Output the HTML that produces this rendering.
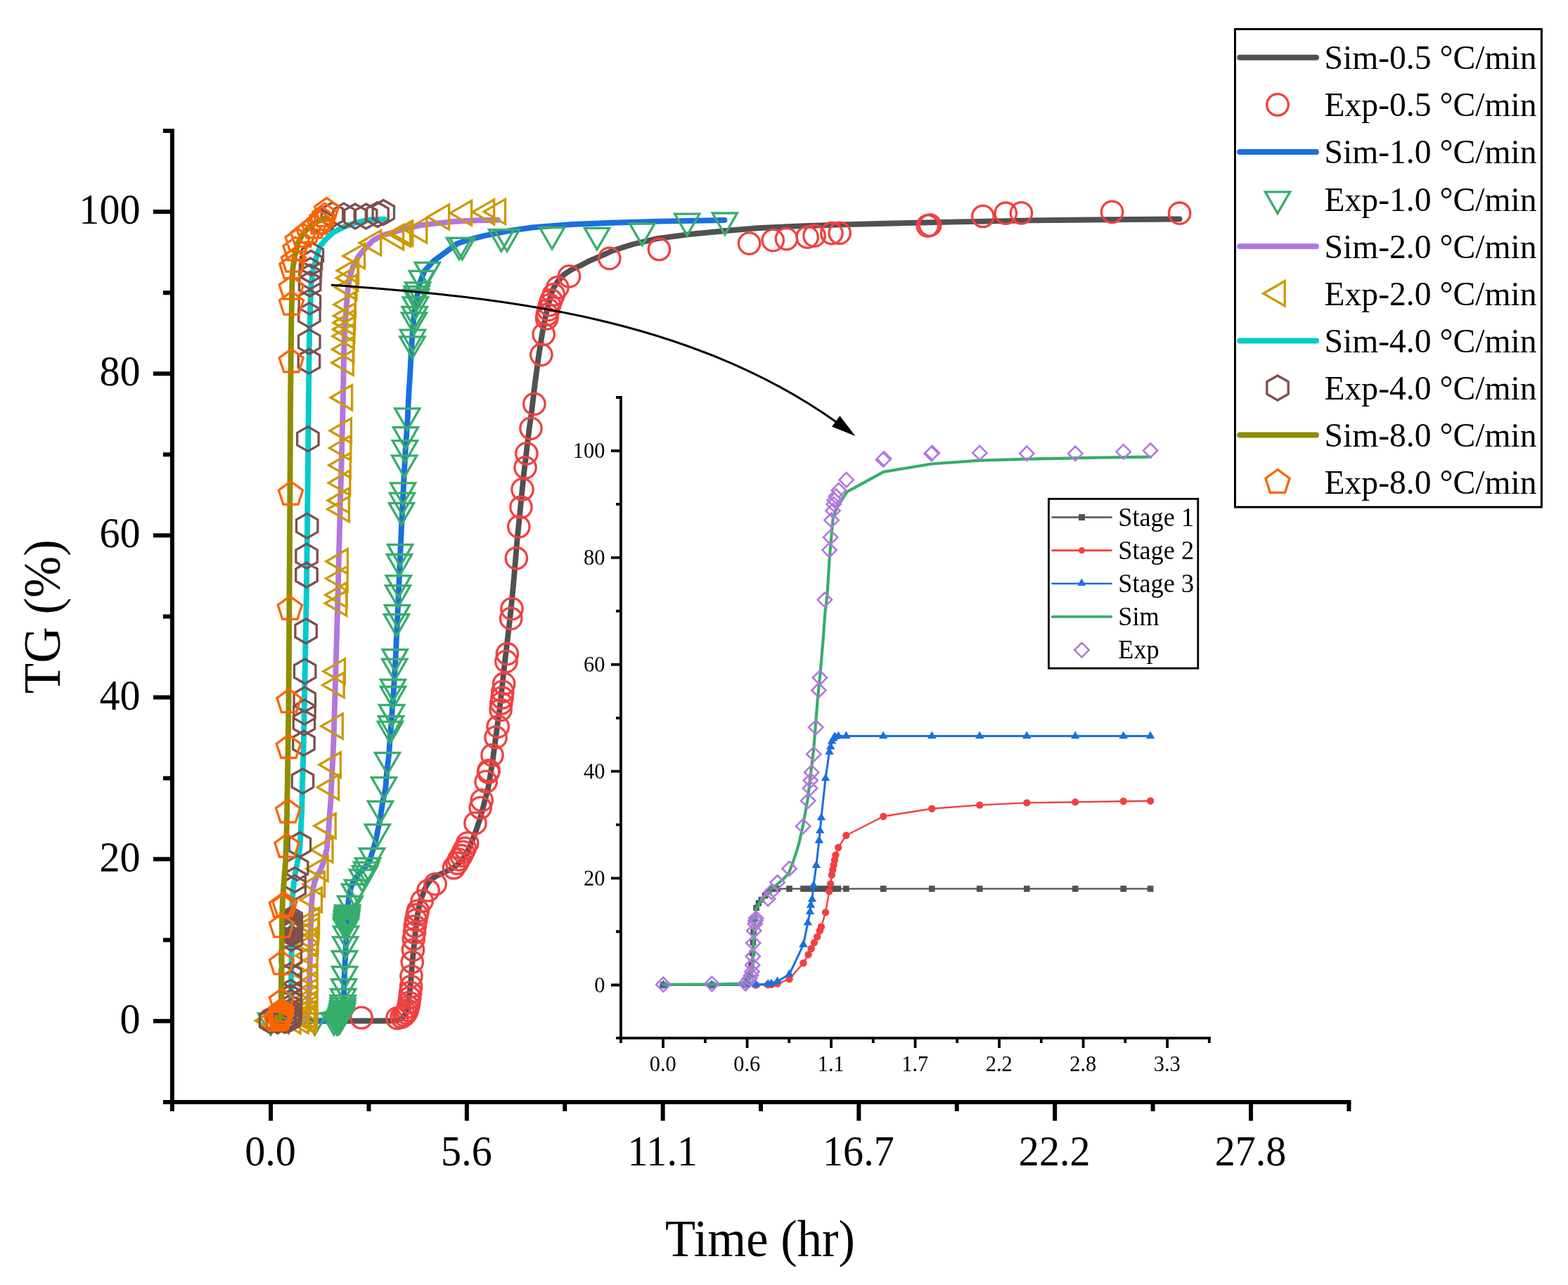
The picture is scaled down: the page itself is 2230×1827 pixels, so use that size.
<!DOCTYPE html>
<html lang="en"><head><meta charset="utf-8"><title>TG (%) vs Time (hr)</title>
<style>
html,body{margin:0;padding:0;background:#fff;}
body{width:2230px;height:1827px;overflow:hidden;}
svg{display:block;}
</style></head><body>
<svg width="2230" height="1827" viewBox="0 0 2230 1827" role="img" aria-label="TG (%) versus Time (hr)">
<rect width="2230" height="1827" fill="#fff"/>
<g stroke="#000" stroke-width="6" fill="none">
<path d="M244.9,183 V1580.1"/>
<path d="M231.9,1567.1 H1921.4"/>
<path d="M244.9,1451.7 H217.9M244.9,1336.6 H231.9M244.9,1221.6 H217.9M244.9,1106.5 H231.9M244.9,991.5 H217.9M244.9,876.4 H231.9M244.9,761.3 H217.9M244.9,646.3 H231.9M244.9,531.2 H217.9M244.9,416.2 H231.9M244.9,301.1 H217.9M244.9,186 H231.9M385.1,1567.1 V1593.6M524.5,1567.1 V1580.1M663.9,1567.1 V1593.6M803.3,1567.1 V1580.1M942.7,1567.1 V1593.6M1082,1567.1 V1580.1M1221.4,1567.1 V1593.6M1360.8,1567.1 V1580.1M1500.2,1567.1 V1593.6M1639.6,1567.1 V1580.1M1779,1567.1 V1593.6M1918.4,1567.1 V1580.1"/>
</g>
<g font-family="'Liberation Serif',serif" font-size="61.5" fill="#000">
<text transform="translate(199.5,1468.8) scale(0.945,1)" text-anchor="end">0</text>
<text transform="translate(199.5,1238.7) scale(0.945,1)" text-anchor="end">20</text>
<text transform="translate(199.5,1008.6) scale(0.945,1)" text-anchor="end">40</text>
<text transform="translate(199.5,778.4) scale(0.945,1)" text-anchor="end">60</text>
<text transform="translate(199.5,548.3) scale(0.945,1)" text-anchor="end">80</text>
<text transform="translate(199.5,318.2) scale(0.945,1)" text-anchor="end">100</text>
<text transform="translate(384.6,1656.8) scale(0.945,1)" text-anchor="middle">0.0</text>
<text transform="translate(663.4,1656.8) scale(0.945,1)" text-anchor="middle">5.6</text>
<text transform="translate(942.2,1656.8) scale(0.945,1)" text-anchor="middle">11.1</text>
<text transform="translate(1220.9,1656.8) scale(0.945,1)" text-anchor="middle">16.7</text>
<text transform="translate(1499.7,1656.8) scale(0.945,1)" text-anchor="middle">22.2</text>
<text transform="translate(1778.5,1656.8) scale(0.945,1)" text-anchor="middle">27.8</text>
</g>
<g font-family="'Liberation Serif',serif" font-size="73" fill="#000">
<text transform="translate(1081,1786) scale(0.967,1)" text-anchor="middle">Time (hr)</text>
<text transform="translate(85.3,876.6) rotate(-90) scale(0.975,1)" text-anchor="middle">TG (%)</text>
</g>
<g fill="none" stroke-linejoin="round" stroke-linecap="round">
<polyline stroke="#515151" stroke-width="7.9" points="385.1,1451.7 555,1451.5 559.5,1451.4 566,1450.5 572.8,1447.5 577.3,1440 580.2,1428 582.5,1412.3 584.5,1392.4 586,1372.5 588,1352.6 590,1332.8 592,1312.9 594,1299.6 596.6,1286.4 599.3,1277.1 603.2,1266.5 607.2,1257.8 612.5,1251 620.5,1245.3 629.7,1241.3 642.2,1235.3 651,1229 658.1,1222 663.5,1212.5 668.7,1202.2 676.6,1182.3 683.2,1162.4 688.5,1142.5 693.8,1122.6 697.2,1102.8 700.5,1082.9 703.1,1063 705.8,1043.1 708.4,1023.3 710.4,1010 716.7,952.3 721.4,912.5 726,872.8 730,833 732.8,800 735.4,768.8 738.1,742.3 741.4,709.1 744.7,676 748.7,642.9 752.6,609.8 755.5,590 760.8,545.5 766.1,505.8 771.4,472.6 776.7,446.1 783.4,419.6 787.5,409 793,400.5 801.9,390.5 812.5,383.5 824.8,378 839,370.6 858.9,362.1 869.7,357 892.9,349.6 899.5,347.5 935.1,339.2 978.8,333.3 1030.3,328.3 1077.9,324.3 1137.3,321.4 1196.8,319.4 1260,317.8 1353.3,315.6 1466.5,313.4 1579.8,312.2 1677.5,311.5"/>
<g stroke="#F14040" stroke-width="3.3" stroke-linejoin="miter">
<circle cx="384.3" cy="1449.3" r="15.2"/>
<circle cx="514.1" cy="1447" r="15.2"/>
<circle cx="564.9" cy="1447.6" r="15.2"/>
<circle cx="571.2" cy="1446" r="15.2"/>
<circle cx="574.8" cy="1443.4" r="15.2"/>
<circle cx="577.5" cy="1440.2" r="15.2"/>
<circle cx="579.4" cy="1436.3" r="15.2"/>
<circle cx="580.7" cy="1431.6" r="15.2"/>
<circle cx="581.9" cy="1425.5" r="15.2"/>
<circle cx="582.8" cy="1418.5" r="15.2"/>
<circle cx="583.6" cy="1411" r="15.2"/>
<circle cx="584.6" cy="1402.5" r="15.2"/>
<circle cx="585" cy="1388" r="15.2"/>
<circle cx="586.3" cy="1368" r="15.2"/>
<circle cx="587.5" cy="1350.5" r="15.2"/>
<circle cx="588.3" cy="1335" r="15.2"/>
<circle cx="589.5" cy="1326" r="15.2"/>
<circle cx="590.3" cy="1317" r="15.2"/>
<circle cx="591.6" cy="1308.3" r="15.2"/>
<circle cx="593.1" cy="1300.7" r="15.2"/>
<circle cx="594.5" cy="1295" r="15.2"/>
<circle cx="600.2" cy="1281" r="15.2"/>
<circle cx="609.1" cy="1266" r="15.2"/>
<circle cx="619.1" cy="1257" r="15.2"/>
<circle cx="645.5" cy="1234" r="15.2"/>
<circle cx="650.1" cy="1227.3" r="15.2"/>
<circle cx="652.8" cy="1222" r="15.2"/>
<circle cx="656.1" cy="1216.7" r="15.2"/>
<circle cx="658.7" cy="1211.4" r="15.2"/>
<circle cx="661.4" cy="1206.1" r="15.2"/>
<circle cx="664.7" cy="1198.8" r="15.2"/>
<circle cx="676" cy="1170.4" r="15.2"/>
<circle cx="683.2" cy="1148.5" r="15.2"/>
<circle cx="685.2" cy="1137.9" r="15.2"/>
<circle cx="691.2" cy="1111.4" r="15.2"/>
<circle cx="694.6" cy="1098" r="15.2"/>
<circle cx="695.2" cy="1095.5" r="15.2"/>
<circle cx="700.1" cy="1073.6" r="15.2"/>
<circle cx="705.1" cy="1048.4" r="15.2"/>
<circle cx="708.2" cy="1033.2" r="15.2"/>
<circle cx="712.1" cy="1009.3" r="15.2"/>
<circle cx="712.8" cy="1000" r="15.2"/>
<circle cx="714.1" cy="992" r="15.2"/>
<circle cx="714.8" cy="983.4" r="15.2"/>
<circle cx="716.7" cy="972.2" r="15.2"/>
<circle cx="720" cy="940.4" r="15.2"/>
<circle cx="721.4" cy="929.7" r="15.2"/>
<circle cx="726.7" cy="879.4" r="15.2"/>
<circle cx="728" cy="865.5" r="15.2"/>
<circle cx="734.4" cy="793.7" r="15.2"/>
<circle cx="737.8" cy="748.9" r="15.2"/>
<circle cx="741" cy="721.1" r="15.2"/>
<circle cx="743.1" cy="695.9" r="15.2"/>
<circle cx="747.1" cy="664.8" r="15.2"/>
<circle cx="748.9" cy="644.9" r="15.2"/>
<circle cx="755" cy="609.1" r="15.2"/>
<circle cx="759.9" cy="574.4" r="15.2"/>
<circle cx="769.9" cy="504.4" r="15.2"/>
<circle cx="773.2" cy="475.3" r="15.2"/>
<circle cx="777.7" cy="452.9" r="15.2"/>
<circle cx="778.3" cy="447.2" r="15.2"/>
<circle cx="780" cy="440.4" r="15.2"/>
<circle cx="781.7" cy="433.6" r="15.2"/>
<circle cx="784" cy="426.8" r="15.2"/>
<circle cx="787.4" cy="418.9" r="15.2"/>
<circle cx="793" cy="408.7" r="15.2"/>
<circle cx="809.5" cy="392.9" r="15.2"/>
<circle cx="866.8" cy="367.3" r="15.2"/>
<circle cx="937.5" cy="354.5" r="15.2"/>
<circle cx="1065.6" cy="346.1" r="15.2"/>
<circle cx="1099.3" cy="341.6" r="15.2"/>
<circle cx="1118.5" cy="339.6" r="15.2"/>
<circle cx="1148.2" cy="337.2" r="15.2"/>
<circle cx="1158.1" cy="335.2" r="15.2"/>
<circle cx="1182.9" cy="331.7" r="15.2"/>
<circle cx="1194.2" cy="331.3" r="15.2"/>
<circle cx="1319.3" cy="321.1" r="15.2"/>
<circle cx="1322.7" cy="320.2" r="15.2"/>
<circle cx="1397.9" cy="307.5" r="15.2"/>
<circle cx="1430.3" cy="303.2" r="15.2"/>
<circle cx="1452.5" cy="302.9" r="15.2"/>
<circle cx="1581.6" cy="301.4" r="15.2"/>
<circle cx="1677.6" cy="303.2" r="15.2"/>
</g>
<polyline stroke="#1A6FDF" stroke-width="7.9" points="385.1,1451.7 478,1451.3 484,1450 487,1445 488.3,1432 488.7,1423 489.3,1407.2 489.9,1382.7 491.2,1358.2 492.4,1333.6 493,1314 494.9,1287 496.5,1273 498.7,1263.4 501.5,1255.5 505.3,1249.2 513.6,1238.5 521,1231 525.9,1224 530.8,1207.2 533.7,1197.2 535.7,1188.8 540.6,1164.3 544.3,1139.8 548.2,1121.6 550.4,1094 552.8,1076.2 556.2,1030.8 559.6,985.4 562.4,940 567,840.8 570.9,750 576,650.8 579.8,594 581.2,562.3 583.1,533.9 584.6,505.6 586.4,477.2 588.8,448.9 592.6,424.5 597.2,401.8 604,384.8 616.5,371.2 633.5,358.7 650.5,346.2 667.5,340.6 690.2,334.9 724.3,328.1 756.7,323.5 813.5,319 840,318 870.2,316.8 940,314.6 1030.5,313"/>
<g stroke="#37AD6B" stroke-width="3.3" stroke-linejoin="miter">
<path d="M367.5,1440.8L402.7,1440.8L385.1,1471.3ZM430,1440.8L465.2,1440.8L447.6,1471.3ZM457.4,1440.6L492.6,1440.6L475,1471.1ZM461.3,1440.2L496.5,1440.2L478.9,1470.7ZM462.4,1440L497.6,1440L480,1470.5ZM463.7,1439.6L498.9,1439.6L481.3,1470.1ZM464.9,1438.8L500.1,1438.8L482.5,1469.3ZM466.2,1437.8L501.4,1437.8L483.8,1468.3ZM466.9,1436.1L502.1,1436.1L484.5,1466.6ZM467.4,1434.1L502.6,1434.1L485,1464.6ZM468.1,1431.8L503.3,1431.8L485.7,1462.3ZM468.7,1429.2L503.9,1429.2L486.3,1459.7ZM469.2,1426.3L504.4,1426.3L486.8,1456.8ZM469.6,1423.1L504.8,1423.1L487.2,1453.6ZM469.9,1419.3L505.1,1419.3L487.5,1449.8ZM470.1,1415.7L505.3,1415.7L487.7,1446.2ZM470.5,1406.5L505.7,1406.5L488.1,1437ZM471.5,1392.4L506.7,1392.4L489.1,1422.9ZM472.5,1374.6L507.7,1374.6L490.1,1405.1ZM472.5,1352.5L507.7,1352.5L490.1,1383ZM473.6,1332.3L508.8,1332.3L491.2,1362.8ZM474.4,1317.5L509.6,1317.5L492,1348ZM474.4,1306.5L509.6,1306.5L492,1337ZM474.7,1302.8L509.9,1302.8L492.3,1333.3ZM475,1299.8L510.2,1299.8L492.6,1330.3ZM475.4,1296.7L510.6,1296.7L493,1327.2ZM475.7,1293.8L510.9,1293.8L493.3,1324.3ZM476.1,1290.8L511.3,1290.8L493.7,1321.3ZM476.6,1287.5L511.8,1287.5L494.2,1318ZM480.4,1274.4L515.6,1274.4L498,1304.9ZM486.4,1257.4L521.6,1257.4L504,1287.9ZM490.5,1251.3L525.7,1251.3L508.1,1281.8ZM497.4,1236.8L532.6,1236.8L515,1267.3ZM501.5,1231.7L536.7,1231.7L519.1,1262.2ZM503.4,1226.1L538.6,1226.1L521,1256.6ZM505.6,1220.4L540.8,1220.4L523.2,1250.9ZM511.4,1206.5L546.6,1206.5L529,1237ZM519.3,1172.4L554.5,1172.4L536.9,1202.9ZM523.4,1139.3L558.6,1139.3L541,1169.8ZM528.5,1105.3L563.7,1105.3L546.1,1135.8ZM533.4,1070.3L568.6,1070.3L551,1100.8ZM537.4,1026.2L572.6,1026.2L555,1056.7ZM538.4,1018.5L573.6,1018.5L556,1049ZM539.4,1002.4L574.6,1002.4L557,1032.9ZM541.4,976.5L576.6,976.5L559,1007ZM541.4,966.3L576.6,966.3L559,996.8ZM543.6,937.2L578.8,937.2L561.2,967.7ZM544.1,923.6L579.3,923.6L561.7,954.1ZM546.4,873.7L581.6,873.7L564,904.2ZM547.3,860.6L582.5,860.6L564.9,891.1ZM548.4,832.6L583.6,832.6L566,863.1ZM549.2,818.6L584.4,818.6L566.8,849.1ZM550.4,788.5L585.6,788.5L568,819ZM551.5,774.4L586.7,774.4L569.1,804.9ZM553.4,715.4L588.6,715.4L571,745.9ZM554.3,701.2L589.5,701.2L571.9,731.7ZM555.5,686.8L590.7,686.8L573.1,717.3ZM557.5,647.9L592.7,647.9L575.1,678.4ZM558.3,626.7L593.5,626.7L575.9,657.2ZM559.4,607.6L594.6,607.6L577,638.1ZM561.7,580.8L596.9,580.8L579.3,611.3ZM568.9,478.8L604.1,478.8L586.5,509.3ZM569.4,469.2L604.6,469.2L587,499.7ZM571.4,444.8L606.6,444.8L589,475.3ZM572.1,436.4L607.3,436.4L589.7,466.9ZM573.2,422.8L608.4,422.8L590.8,453.3ZM574.4,412L609.6,412L592,442.5ZM574.9,407.5L610.1,407.5L592.5,438ZM576.6,401.8L611.8,401.8L594.2,432.3ZM582.3,385.4L617.5,385.4L599.9,415.9ZM590.2,373.4L625.4,373.4L607.8,403.9ZM635.4,338.3L670.6,338.3L653,368.8ZM639.9,338.3L675.1,338.3L657.5,368.8ZM695.5,326.7L730.7,326.7L713.1,357.2ZM703.5,326.7L738.7,326.7L721.1,357.2ZM767.5,323.5L802.7,323.5L785.1,354ZM831.5,324.3L866.7,324.3L849.1,354.8ZM895.7,318.1L930.9,318.1L913.3,348.6ZM959.6,304.2L994.8,304.2L977.2,334.7ZM1013.3,303L1048.5,303L1030.9,333.5Z"/>
</g>
<polyline stroke="#B177DE" stroke-width="7.9" points="385.1,1451.7 430,1451.5 435,1450 437.5,1445 438.3,1435 439,1420 440.1,1395 441.3,1350 442,1314 443,1287 444.5,1268 447,1255 451,1245 456,1236.5 460,1226 462.8,1216 464.7,1206.7 465.8,1195 467.5,1178.3 468.8,1158.2 470.5,1137 471.6,1110.2 473.3,1080 474.5,1053.5 476.2,996.7 477.9,940 480.7,840.8 483,750 485.8,650.8 488.1,560 489.2,492 490.9,458 492.8,434 494.7,411.7 497.5,392.8 502.3,378.6 509.8,364.5 519.3,353.1 530.6,341.8 544.8,334.2 558.9,330.5 576.7,324.7 599.4,320.1 622.1,317.3 644.8,315 678.9,313.3 708,312.8"/>
<g stroke="#CC9900" stroke-width="3.3" stroke-linejoin="miter">
<path d="M393.8,1433.6L393.8,1468.8L363.3,1451.2ZM410.2,1433.9L410.2,1469.1L379.7,1451.5ZM427.1,1433.9L427.1,1469.1L396.6,1451.5ZM438.2,1433.7L438.2,1468.9L407.7,1451.3ZM447.5,1433.4L447.5,1468.6L417,1451ZM449.6,1431.4L449.6,1466.6L419.1,1449ZM450.2,1427.4L450.2,1462.6L419.7,1445ZM450.7,1422.4L450.7,1457.6L420.2,1440ZM451,1416.4L451,1451.6L420.5,1434ZM451.2,1409.4L451.2,1444.6L420.7,1427ZM451.2,1401.4L451.2,1436.6L420.7,1419ZM451.2,1392.4L451.2,1427.6L420.7,1410ZM451.2,1381.4L451.2,1416.6L420.7,1399ZM451.1,1369.9L451.1,1405.1L420.6,1387.5ZM451.2,1354.4L451.2,1389.6L420.7,1372ZM451.1,1341.1L451.1,1376.3L420.6,1358.7ZM451.7,1325.4L451.7,1360.6L421.2,1343ZM452.2,1318.4L452.2,1353.6L421.7,1336ZM452.7,1305.4L452.7,1340.6L422.2,1323ZM453.2,1298.4L453.2,1333.6L422.7,1316ZM453.7,1291.1L453.7,1326.3L423.2,1308.7ZM457.5,1261.8L457.5,1297L427,1279.4ZM461.5,1239.4L461.5,1274.6L431,1257ZM466.2,1217.6L466.2,1252.8L435.7,1235.2ZM473,1190.7L473,1225.9L442.5,1208.3ZM477.2,1156.6L477.2,1191.8L446.7,1174.2ZM481.7,1101.7L481.7,1136.9L451.2,1119.3ZM484.4,1069.7L484.4,1104.9L453.9,1087.3ZM487.3,1014.9L487.3,1050.1L456.8,1032.5ZM489.2,956.4L489.2,991.6L458.7,974ZM490.4,936.9L490.4,972.1L459.9,954.5ZM492.7,840.2L492.7,875.4L462.2,857.8ZM493.2,828.3L493.2,863.5L462.7,845.9ZM494.2,805L494.2,840.2L463.7,822.6ZM494.4,780.6L494.4,815.8L463.9,798.2ZM496.4,706.4L496.4,741.6L465.9,724ZM496.6,693.9L496.6,729.1L466.1,711.5ZM497.8,668.9L497.8,704.1L467.3,686.5ZM498.3,644L498.3,679.2L467.8,661.6ZM498.9,619.3L498.9,654.5L468.4,636.9ZM499.5,594.8L499.5,630L469,612.4ZM500.6,547.6L500.6,582.8L470.1,565.2ZM502.3,498.1L502.3,533.3L471.8,515.7ZM502.9,479.1L502.9,514.3L472.4,496.7ZM503.4,460.3L503.4,495.5L472.9,477.9ZM504,450.7L504,485.9L473.5,468.3ZM504.3,441.1L504.3,476.3L473.8,458.7ZM504.8,431.4L504.8,466.6L474.3,449ZM505.5,415.3L505.5,450.5L475,432.9ZM507,390.9L507,426.1L476.5,408.5ZM508.9,377.7L508.9,412.9L478.4,395.3ZM509.7,367.2L509.7,402.4L479.2,384.8ZM518.6,346.4L518.6,381.6L488.1,364ZM541.7,327.8L541.7,363L511.2,345.4ZM573.6,319.6L573.6,354.8L543.1,337.2ZM583.6,315.4L583.6,350.6L553.1,333ZM586.8,314.1L586.8,349.3L556.3,331.7ZM606.8,309.9L606.8,345.1L576.3,327.5ZM638.6,290.9L638.6,326.1L608.1,308.5ZM670.7,285.3L670.7,320.5L640.2,302.9ZM702.7,283.8L702.7,319L672.2,301.4ZM718.6,283.3L718.6,318.5L688.1,300.9Z"/>
</g>
<polyline stroke="#00CBCC" stroke-width="7.9" points="385.1,1451.7 405,1451.5 411,1449 413,1440 414,1420 414.2,1395 415.1,1314 415.6,1282.3 417,1263.4 419.4,1244.5 423.1,1225.6 426.4,1206.7 427.9,1178.3 429.3,1150 430.2,1110.2 431.9,1053.5 433,996.7 434,940 435.9,840.8 437,750 439,560 439.9,480.8 441.3,434 442.7,402.3 445.6,383.4 450.3,364.5 455,350.3 462.6,340.9 473.9,330.5 488.1,322.9 507,316.3 525.9,312.5 546.8,311.6"/>
<g stroke="#7D4E4E" stroke-width="3.3" stroke-linejoin="miter">
<path d="M384.6,1434L399.8,1442.8L399.8,1460.2L384.6,1469L369.4,1460.2L369.4,1442.8ZM395,1434L410.2,1442.8L410.2,1460.2L395,1469L379.8,1460.2L379.8,1442.8ZM405,1433.5L420.2,1442.2L420.2,1459.8L405,1468.5L389.8,1459.8L389.8,1442.2ZM410.5,1432.5L425.7,1441.2L425.7,1458.8L410.5,1467.5L395.3,1458.8L395.3,1441.2ZM412.3,1429.5L427.5,1438.2L427.5,1455.8L412.3,1464.5L397.1,1455.8L397.1,1438.2ZM412.8,1425.5L428,1434.2L428,1451.8L412.8,1460.5L397.6,1451.8L397.6,1434.2ZM413,1420.5L428.2,1429.2L428.2,1446.8L413,1455.5L397.8,1446.8L397.8,1429.2ZM413.1,1414.5L428.3,1423.2L428.3,1440.8L413.1,1449.5L397.9,1440.8L397.9,1423.2ZM413.1,1407.5L428.3,1416.2L428.3,1433.8L413.1,1442.5L397.9,1433.8L397.9,1416.2ZM413.1,1400.5L428.3,1409.2L428.3,1426.8L413.1,1435.5L397.9,1426.8L397.9,1409.2ZM413.1,1393.1L428.3,1401.8L428.3,1419.3L413.1,1428.1L397.9,1419.3L397.9,1401.8ZM413.1,1380.5L428.3,1389.2L428.3,1406.8L413.1,1415.5L397.9,1406.8L397.9,1389.2ZM413.1,1369.5L428.3,1378.2L428.3,1395.8L413.1,1404.5L397.9,1395.8L397.9,1378.2ZM413.3,1342.5L428.5,1351.2L428.5,1368.8L413.3,1377.5L398.1,1368.8L398.1,1351.2ZM414.4,1316.8L429.6,1325.5L429.6,1343L414.4,1351.8L399.2,1343L399.2,1325.5ZM414.4,1309.5L429.6,1318.2L429.6,1335.8L414.4,1344.5L399.2,1335.8L399.2,1318.2ZM414.4,1305.5L429.6,1314.2L429.6,1331.8L414.4,1340.5L399.2,1331.8L399.2,1314.2ZM414.3,1301.5L429.5,1310.2L429.5,1327.8L414.3,1336.5L399.1,1327.8L399.1,1310.2ZM414.2,1297.5L429.4,1306.2L429.4,1323.8L414.2,1332.5L399,1323.8L399,1306.2ZM414.2,1293.5L429.4,1302.2L429.4,1319.8L414.2,1328.5L399,1319.8L399,1302.2ZM414.3,1289.5L429.5,1298.2L429.5,1315.8L414.3,1324.5L399.1,1315.8L399.1,1298.2ZM419.1,1244.5L434.3,1253.2L434.3,1270.8L419.1,1279.5L403.9,1270.8L403.9,1253.2ZM419.1,1233.5L434.3,1242.2L434.3,1259.8L419.1,1268.5L403.9,1259.8L403.9,1242.2ZM422.7,1216.6L437.9,1225.3L437.9,1242.8L422.7,1251.6L407.5,1242.8L407.5,1225.3ZM426.4,1183.5L441.6,1192.2L441.6,1209.8L426.4,1218.5L411.2,1209.8L411.2,1192.2ZM430.5,1093.1L445.7,1101.8L445.7,1119.3L430.5,1128.1L415.3,1119.3L415.3,1101.8ZM432,1039.2L447.2,1048L447.2,1065.5L432,1074.2L416.8,1065.5L416.8,1048ZM432.5,1010.1L447.7,1018.8L447.7,1036.3L432.5,1045.1L417.3,1036.3L417.3,1018.8ZM433,994.9L448.2,1003.6L448.2,1021.1L433,1029.9L417.8,1021.1L417.8,1003.6ZM433.3,977L448.5,985.8L448.5,1003.2L433.3,1012L418.1,1003.2L418.1,985.8ZM433.7,937L448.9,945.8L448.9,963.2L433.7,972L418.5,963.2L418.5,945.8ZM435.1,879.8L450.3,888.5L450.3,906L435.1,914.8L419.9,906L419.9,888.5ZM436,800L451.2,808.8L451.2,826.2L436,835L420.8,826.2L420.8,808.8ZM436.1,773.1L451.3,781.9L451.3,799.4L436.1,808.1L420.9,799.4L420.9,781.9ZM436.7,730.1L451.9,738.9L451.9,756.4L436.7,765.1L421.5,756.4L421.5,738.9ZM437.9,606.6L453.1,615.4L453.1,632.9L437.9,641.6L422.7,632.9L422.7,615.4ZM439.5,496.2L454.7,505L454.7,522.5L439.5,531.2L424.3,522.5L424.3,505ZM439.8,468.4L455,477.1L455,494.6L439.8,503.4L424.6,494.6L424.6,477.1ZM439.9,430.6L455.1,439.4L455.1,456.9L439.9,465.6L424.7,456.9L424.7,439.4ZM440.4,411.9L455.6,420.6L455.6,438.1L440.4,446.9L425.2,438.1L425.2,420.6ZM440.6,386.3L455.8,395.1L455.8,412.6L440.6,421.3L425.4,412.6L425.4,395.1ZM441,376.1L456.2,384.9L456.2,402.4L441,411.1L425.8,402.4L425.8,384.9ZM441.5,367L456.7,375.8L456.7,393.2L441.5,402L426.3,393.2L426.3,375.8ZM442.5,356.5L457.7,365.2L457.7,382.8L442.5,391.5L427.3,382.8L427.3,365.2ZM444.4,345.6L459.6,354.4L459.6,371.9L444.4,380.6L429.2,371.9L429.2,354.4ZM458,298.5L473.2,307.2L473.2,324.8L458,333.5L442.8,324.8L442.8,307.2ZM472.5,288L487.7,296.8L487.7,314.2L472.5,323L457.3,314.2L457.3,296.8ZM489,289.1L504.2,297.9L504.2,315.4L489,324.1L473.8,315.4L473.8,297.9ZM505.1,290L520.3,298.8L520.3,316.2L505.1,325L489.9,316.2L489.9,298.8ZM520.7,290L535.9,298.8L535.9,316.2L520.7,325L505.5,316.2L505.5,298.8ZM537,287.5L552.2,296.2L552.2,313.8L537,322.5L521.8,313.8L521.8,296.2ZM545.3,284.5L560.5,293.2L560.5,310.8L545.3,319.5L530.1,310.8L530.1,293.2Z"/>
</g>
<polyline stroke="#8E8E00" stroke-width="7.9" points="385.1,1451.7 393,1451.5 397,1449.5 399,1445 399.8,1438 400.2,1420 400.5,1400 400.9,1314 401.9,1282.3 403.8,1253.9 406.1,1225.6 407.5,1187.8 408.2,1150 409.4,1076.2 410.4,1008.1 410.9,940 412.1,750 413.2,560 414.3,458 414.9,434 415.4,405 416.3,383.4 419.1,364.5 423.8,345.6 431.4,331.4 440.9,322 450.3,315.3 460,311.2 465.9,310.3"/>
<g stroke="#FB6501" stroke-width="3.3" stroke-linejoin="miter">
<path d="M393.1,1432.5L410.2,1444.9L403.7,1465.1L382.5,1465.1L376,1444.9ZM397.5,1431.5L414.6,1443.9L408.1,1464.1L386.9,1464.1L380.4,1443.9ZM399,1429.5L416.1,1441.9L409.6,1462.1L388.4,1462.1L381.9,1441.9ZM399.8,1427L416.9,1439.4L410.4,1459.6L389.2,1459.6L382.7,1439.4ZM400.2,1424L417.3,1436.4L410.8,1456.6L389.6,1456.6L383.1,1436.4ZM400.4,1419.8L417.5,1432.2L411,1452.4L389.8,1452.4L383.3,1432.2ZM400.5,1405.8L417.6,1418.2L411.1,1438.4L389.9,1438.4L383.4,1418.2ZM400.5,1352.2L417.6,1364.6L411.1,1384.8L389.9,1384.8L383.4,1364.6ZM400.5,1299.5L417.6,1311.9L411.1,1332.1L389.9,1332.1L383.4,1311.9ZM400.4,1271L417.5,1283.4L411,1303.6L389.8,1303.6L383.3,1283.4ZM405,1269.4L422.1,1281.8L415.6,1302L394.4,1302L387.9,1281.8ZM408,1185.8L425.1,1198.2L418.6,1218.4L397.4,1218.4L390.9,1198.2ZM409.6,1136.6L426.7,1149L420.2,1169.2L399,1169.2L392.5,1149ZM410.4,1044.9L427.5,1057.3L421,1077.5L399.8,1077.5L393.3,1057.3ZM411,980L428.1,992.4L421.6,1012.6L400.4,1012.6L393.9,992.4ZM412.3,847.8L429.4,860.2L422.9,880.4L401.7,880.4L395.2,860.2ZM413.5,684.5L430.6,696.9L424.1,717.1L402.9,717.1L396.4,696.9ZM414.3,496.3L431.4,508.7L424.9,528.9L403.7,528.9L397.2,508.7ZM414.5,414.6L431.6,427L425.1,447.2L403.9,447.2L397.4,427ZM414.3,392.6L431.4,405L424.9,425.2L403.7,425.2L397.2,405ZM414.9,363.1L432,375.5L425.5,395.7L404.3,395.7L397.8,375.5ZM417.5,353.5L434.6,365.9L428.1,386.1L406.9,386.1L400.4,365.9ZM420,337.2L437.1,349.6L430.6,369.8L409.4,369.8L402.9,349.6ZM423.2,324.8L440.3,337.2L433.8,357.4L412.6,357.4L406.1,337.2ZM431,318L448.1,330.4L441.6,350.6L420.4,350.6L413.9,330.4ZM438.8,311.8L455.9,324.2L449.4,344.4L428.2,344.4L421.7,324.2ZM446.5,305.5L463.6,317.9L457.1,338.1L435.9,338.1L429.4,317.9ZM454.1,299.3L471.2,311.7L464.7,331.9L443.5,331.9L437,311.7ZM458,294L475.1,306.4L468.6,326.6L447.4,326.6L440.9,306.4ZM462,289L479.1,301.4L472.6,321.6L451.4,321.6L444.9,301.4ZM464.7,281.3L481.8,293.7L475.3,313.9L454.1,313.9L447.6,293.7Z"/>
</g>
</g>
<path d="M471,405.3 C718.6,422.0 980.9,452.1 1189,599.8" fill="none" stroke="#000" stroke-width="3"/><path d="M1216.5,620 L1194.5,591.3 L1183.1,606.4 Z" fill="#000"/>
<g stroke="#000" stroke-width="3.8" fill="none">
<path d="M883,563.1 V1482.9"/>
<path d="M876,1475.9 H1721.8"/>
<path d="M883,1400.5 H869M883,1324.5 H876M883,1248.6 H869M883,1172.7 H876M883,1096.7 H869M883,1020.8 H876M883,944.8 H869M883,868.9 H876M883,792.9 H869M883,716.9 H876M883,641 H869M883,565 H876M943.1,1475.9 V1489.9M1002.9,1475.9 V1482.9M1062.6,1475.9 V1489.9M1122.3,1475.9 V1482.9M1182.1,1475.9 V1489.9M1241.8,1475.9 V1482.9M1301.6,1475.9 V1489.9M1361.3,1475.9 V1482.9M1421.1,1475.9 V1489.9M1480.8,1475.9 V1482.9M1540.6,1475.9 V1489.9M1600.3,1475.9 V1482.9M1660.1,1475.9 V1489.9M1719.8,1475.9 V1482.9"/>
</g>
<g font-family="'Liberation Serif',serif" font-size="30.5" fill="#000">
<text x="860.5" y="1410.8" text-anchor="end">0</text>
<text x="860.5" y="1258.9" text-anchor="end">20</text>
<text x="860.5" y="1107" text-anchor="end">40</text>
<text x="860.5" y="955.1" text-anchor="end">60</text>
<text x="860.5" y="803.2" text-anchor="end">80</text>
<text x="860.5" y="651.3" text-anchor="end">100</text>
<text x="942.8" y="1523" text-anchor="middle">0.0</text>
<text x="1062.3" y="1523" text-anchor="middle">0.6</text>
<text x="1181.8" y="1523" text-anchor="middle">1.1</text>
<text x="1301.3" y="1523" text-anchor="middle">1.7</text>
<text x="1420.8" y="1523" text-anchor="middle">2.2</text>
<text x="1540.3" y="1523" text-anchor="middle">2.8</text>
<text x="1659.8" y="1523" text-anchor="middle">3.3</text>
</g>
<g fill="none" stroke-linejoin="round" stroke-linecap="round">
<polyline stroke="#515151" stroke-width="2.4" points="943.4,1400.2 1012.4,1400.2 1060.5,1399.5 1063.5,1394 1066.5,1385 1068.5,1372 1070,1355 1071,1340 1071.6,1324.7 1073,1307 1075.6,1290.7 1079,1284 1083,1279.2 1088,1273.5 1093,1268 1097.5,1264 1101,1263.6 1105.6,1263.6 1122.6,1263.6 1142.5,1263.6 1146,1263.6 1149.6,1263.6 1153,1263.6 1157,1263.6 1161,1263.6 1165,1263.6 1169,1263.6 1174,1263.6 1179,1263.6 1183,1263.6 1187,1263.6 1192,1263.6 1203.4,1263.6 1256.3,1263.6 1325.3,1263.6 1393.2,1263.6 1460.3,1263.6 1529.3,1263.6 1597.7,1263.6 1636.1,1263.6"/>
<path d="M939.1,1395.9L947.7,1395.9L947.7,1404.5L939.1,1404.5ZM1008.1,1395.9L1016.7,1395.9L1016.7,1404.5L1008.1,1404.5ZM1056.2,1395.2L1064.8,1395.2L1064.8,1403.8L1056.2,1403.8ZM1059.2,1389.7L1067.8,1389.7L1067.8,1398.3L1059.2,1398.3ZM1062.2,1380.7L1070.8,1380.7L1070.8,1389.3L1062.2,1389.3ZM1064.2,1367.7L1072.8,1367.7L1072.8,1376.3L1064.2,1376.3ZM1065.7,1350.7L1074.3,1350.7L1074.3,1359.3L1065.7,1359.3ZM1066.7,1335.7L1075.3,1335.7L1075.3,1344.3L1066.7,1344.3ZM1067.3,1320.4L1075.9,1320.4L1075.9,1329L1067.3,1329ZM1068.7,1302.7L1077.3,1302.7L1077.3,1311.3L1068.7,1311.3ZM1071.3,1286.4L1079.9,1286.4L1079.9,1295L1071.3,1295ZM1074.7,1279.7L1083.3,1279.7L1083.3,1288.3L1074.7,1288.3ZM1078.7,1274.9L1087.3,1274.9L1087.3,1283.5L1078.7,1283.5ZM1083.7,1269.2L1092.3,1269.2L1092.3,1277.8L1083.7,1277.8ZM1088.7,1263.7L1097.3,1263.7L1097.3,1272.3L1088.7,1272.3ZM1093.2,1259.7L1101.8,1259.7L1101.8,1268.3L1093.2,1268.3ZM1096.7,1259.3L1105.3,1259.3L1105.3,1267.9L1096.7,1267.9ZM1101.3,1259.3L1109.9,1259.3L1109.9,1267.9L1101.3,1267.9ZM1118.3,1259.3L1126.9,1259.3L1126.9,1267.9L1118.3,1267.9ZM1138.2,1259.3L1146.8,1259.3L1146.8,1267.9L1138.2,1267.9ZM1141.7,1259.3L1150.3,1259.3L1150.3,1267.9L1141.7,1267.9ZM1145.3,1259.3L1153.9,1259.3L1153.9,1267.9L1145.3,1267.9ZM1148.7,1259.3L1157.3,1259.3L1157.3,1267.9L1148.7,1267.9ZM1152.7,1259.3L1161.3,1259.3L1161.3,1267.9L1152.7,1267.9ZM1156.7,1259.3L1165.3,1259.3L1165.3,1267.9L1156.7,1267.9ZM1160.7,1259.3L1169.3,1259.3L1169.3,1267.9L1160.7,1267.9ZM1164.7,1259.3L1173.3,1259.3L1173.3,1267.9L1164.7,1267.9ZM1169.7,1259.3L1178.3,1259.3L1178.3,1267.9L1169.7,1267.9ZM1174.7,1259.3L1183.3,1259.3L1183.3,1267.9L1174.7,1267.9ZM1178.7,1259.3L1187.3,1259.3L1187.3,1267.9L1178.7,1267.9ZM1182.7,1259.3L1191.3,1259.3L1191.3,1267.9L1182.7,1267.9ZM1187.7,1259.3L1196.3,1259.3L1196.3,1267.9L1187.7,1267.9ZM1199.1,1259.3L1207.7,1259.3L1207.7,1267.9L1199.1,1267.9ZM1252,1259.3L1260.6,1259.3L1260.6,1267.9L1252,1267.9ZM1321,1259.3L1329.6,1259.3L1329.6,1267.9L1321,1267.9ZM1388.9,1259.3L1397.5,1259.3L1397.5,1267.9L1388.9,1267.9ZM1456,1259.3L1464.6,1259.3L1464.6,1267.9L1456,1267.9ZM1525,1259.3L1533.6,1259.3L1533.6,1267.9L1525,1267.9ZM1593.4,1259.3L1602,1259.3L1602,1267.9L1593.4,1267.9ZM1631.8,1259.3L1640.4,1259.3L1640.4,1267.9L1631.8,1267.9Z" fill="#515151" stroke="none"/>
<polyline stroke="#F14040" stroke-width="2.4" points="943.4,1400.5 1012.4,1400.5 1062,1400.5 1075,1400.5 1092.2,1400 1097,1399.7 1105.6,1398.6 1122.6,1392 1142.5,1369.3 1149.6,1357.3 1153.8,1348.8 1158,1340.3 1162.3,1331.8 1165.9,1323.3 1168,1317.6 1174.1,1297.1 1179.3,1267.3 1181.2,1256.7 1182.9,1244 1184.3,1236.8 1185.7,1229.8 1187.1,1222.7 1188.5,1215.6 1192.3,1205 1203.4,1187.8 1256.3,1160.7 1325.3,1149.8 1393.2,1144.6 1460.3,1141.4 1529.3,1140.4 1597.7,1139.3 1636.1,1138.8"/>
<g fill="#F14040" stroke="none">
<circle cx="943.4" cy="1400.5" r="5.2"/>
<circle cx="1012.4" cy="1400.5" r="5.2"/>
<circle cx="1062" cy="1400.5" r="5.2"/>
<circle cx="1075" cy="1400.5" r="5.2"/>
<circle cx="1092.2" cy="1400" r="5.2"/>
<circle cx="1097" cy="1399.7" r="5.2"/>
<circle cx="1105.6" cy="1398.6" r="5.2"/>
<circle cx="1122.6" cy="1392" r="5.2"/>
<circle cx="1142.5" cy="1369.3" r="5.2"/>
<circle cx="1149.6" cy="1357.3" r="5.2"/>
<circle cx="1153.8" cy="1348.8" r="5.2"/>
<circle cx="1158" cy="1340.3" r="5.2"/>
<circle cx="1162.3" cy="1331.8" r="5.2"/>
<circle cx="1165.9" cy="1323.3" r="5.2"/>
<circle cx="1168" cy="1317.6" r="5.2"/>
<circle cx="1174.1" cy="1297.1" r="5.2"/>
<circle cx="1179.3" cy="1267.3" r="5.2"/>
<circle cx="1181.2" cy="1256.7" r="5.2"/>
<circle cx="1182.9" cy="1244" r="5.2"/>
<circle cx="1184.3" cy="1236.8" r="5.2"/>
<circle cx="1185.7" cy="1229.8" r="5.2"/>
<circle cx="1187.1" cy="1222.7" r="5.2"/>
<circle cx="1188.5" cy="1215.6" r="5.2"/>
<circle cx="1192.3" cy="1205" r="5.2"/>
<circle cx="1203.4" cy="1187.8" r="5.2"/>
<circle cx="1256.3" cy="1160.7" r="5.2"/>
<circle cx="1325.3" cy="1149.8" r="5.2"/>
<circle cx="1393.2" cy="1144.6" r="5.2"/>
<circle cx="1460.3" cy="1141.4" r="5.2"/>
<circle cx="1529.3" cy="1140.4" r="5.2"/>
<circle cx="1597.7" cy="1139.3" r="5.2"/>
<circle cx="1636.1" cy="1138.8" r="5.2"/>
</g>
<polyline stroke="#1A6FDF" stroke-width="3.0" points="943.4,1400.3 1012.4,1400.3 1062,1400.3 1075,1400 1092.2,1399 1097,1398.5 1105.6,1395.5 1122.6,1385.3 1142.5,1343.1 1148.9,1312 1152,1296.4 1153.1,1287.2 1155,1278.6 1157,1258.8 1160.9,1230.5 1164.9,1195.2 1166.3,1181.1 1168,1162.6 1174.1,1106.7 1179.5,1069.1 1181.2,1062 1183.3,1054 1185.5,1050 1187.5,1047.5 1192.5,1046.6 1203.4,1046.6 1256.3,1046.6 1325.3,1046.6 1393.2,1046.6 1460.3,1046.6 1529.3,1046.6 1597.7,1046.6 1636.1,1046.6"/>
<path d="M937.1,1403.9L949.6,1403.9L943.4,1393.1ZM1006.1,1403.9L1018.6,1403.9L1012.4,1393.1ZM1055.8,1403.9L1068.2,1403.9L1062,1393.1ZM1068.8,1403.6L1081.2,1403.6L1075,1392.8ZM1086,1402.6L1098.5,1402.6L1092.2,1391.8ZM1090.8,1402.1L1103.2,1402.1L1097,1391.3ZM1099.3,1399.1L1111.8,1399.1L1105.6,1388.3ZM1116.3,1388.9L1128.8,1388.9L1122.6,1378.1ZM1136.2,1346.7L1148.8,1346.7L1142.5,1335.9ZM1142.7,1315.6L1155.2,1315.6L1148.9,1304.8ZM1145.8,1300L1158.2,1300L1152,1289.2ZM1146.8,1290.8L1159.3,1290.8L1153.1,1280ZM1148.8,1282.2L1161.2,1282.2L1155,1271.4ZM1150.8,1262.4L1163.2,1262.4L1157,1251.6ZM1154.7,1234.1L1167.2,1234.1L1160.9,1223.3ZM1158.7,1198.8L1171.2,1198.8L1164.9,1188ZM1160,1184.7L1172.5,1184.7L1166.3,1173.9ZM1161.8,1166.2L1174.2,1166.2L1168,1155.4ZM1167.8,1110.3L1180.3,1110.3L1174.1,1099.5ZM1173.2,1072.7L1185.8,1072.7L1179.5,1061.9ZM1175,1065.6L1187.5,1065.6L1181.2,1054.8ZM1177,1057.6L1189.5,1057.6L1183.3,1046.8ZM1179.2,1053.6L1191.8,1053.6L1185.5,1042.8ZM1181.2,1051.1L1193.8,1051.1L1187.5,1040.3ZM1186.2,1050.2L1198.8,1050.2L1192.5,1039.4ZM1197.2,1050.2L1209.7,1050.2L1203.4,1039.4ZM1250,1050.2L1262.5,1050.2L1256.3,1039.4ZM1319,1050.2L1331.5,1050.2L1325.3,1039.4ZM1387,1050.2L1399.5,1050.2L1393.2,1039.4ZM1454,1050.2L1466.5,1050.2L1460.3,1039.4ZM1523,1050.2L1535.5,1050.2L1529.3,1039.4ZM1591.5,1050.2L1604,1050.2L1597.7,1039.4ZM1629.8,1050.2L1642.3,1050.2L1636.1,1039.4Z" fill="#1A6FDF" stroke="none"/>
<polyline stroke="#37AD6B" stroke-width="4.2" points="943.4,1399.8 1012.4,1399.6 1061.7,1398.4 1066,1392 1070.2,1377.1 1071.6,1341.7 1073,1313.4 1075.2,1292.1 1083,1279.4 1097.1,1263.8 1111.3,1252.4 1121.2,1242.5 1126.9,1228.3 1132.6,1211.3 1136.1,1200 1142.2,1172.6 1148.6,1137.1 1152.8,1101.7 1157.1,1066.3 1159.9,1030.9 1162.7,995.4 1166.3,960 1170.3,913.8 1173.5,870 1176.5,846 1179.4,798.4 1182.9,755.9 1185,734.6 1190.7,720.5 1204.9,699.2 1256.6,670.9 1325.3,659.5 1394,654.6 1462.4,652.7 1530.9,651.2 1597.7,650.2 1636.1,649.6"/>
<path d="M943.4,1389.7L953.5,1399.8L943.4,1409.9L933.3,1399.8ZM1012.4,1388.7L1022.5,1398.8L1012.4,1408.9L1002.3,1398.8ZM1060.3,1388.3L1070.4,1398.4L1060.3,1408.5L1050.2,1398.4ZM1063.1,1385.5L1073.2,1395.6L1063.1,1405.7L1053,1395.6ZM1066,1381.2L1076.1,1391.3L1066,1401.4L1055.9,1391.3ZM1068.1,1377L1078.2,1387.1L1068.1,1397.2L1058,1387.1ZM1069.5,1371.3L1079.6,1381.4L1069.5,1391.5L1059.4,1381.4ZM1070.2,1362.1L1080.3,1372.2L1070.2,1382.3L1060.1,1372.2ZM1070.9,1349.7L1081,1359.8L1070.9,1369.9L1060.8,1359.8ZM1071.3,1330.6L1081.4,1340.7L1071.3,1350.8L1061.2,1340.7ZM1072.3,1313.2L1082.4,1323.3L1072.3,1333.4L1062.2,1323.3ZM1073.8,1303.3L1083.9,1313.4L1073.8,1323.5L1063.7,1313.4ZM1074.5,1299L1084.6,1309.1L1074.5,1319.2L1064.4,1309.1ZM1075.2,1295.5L1085.3,1305.6L1075.2,1315.7L1065.1,1305.6ZM1092.2,1267.6L1102.3,1277.7L1092.2,1287.8L1082.1,1277.7ZM1097.1,1257.9L1107.2,1268L1097.1,1278.1L1087,1268ZM1105.6,1244.5L1115.7,1254.6L1105.6,1264.7L1095.5,1254.6ZM1122.6,1224.9L1132.7,1235L1122.6,1245.1L1112.5,1235ZM1142.2,1164.6L1152.3,1174.7L1142.2,1184.8L1132.1,1174.7ZM1149.3,1128.5L1159.4,1138.6L1149.3,1148.7L1139.2,1138.6ZM1152.1,1110.7L1162.2,1120.8L1152.1,1130.9L1142,1120.8ZM1152.8,1099.4L1162.9,1109.5L1152.8,1119.6L1142.7,1109.5ZM1154.2,1088.1L1164.3,1098.2L1154.2,1108.3L1144.1,1098.2ZM1157.4,1062.1L1167.5,1072.2L1157.4,1082.3L1147.3,1072.2ZM1160.3,1024L1170.4,1034.1L1160.3,1044.2L1150.2,1034.1ZM1164.4,971.4L1174.5,981.5L1164.4,991.6L1154.3,981.5ZM1166,953.4L1176.1,963.5L1166,973.6L1155.9,963.5ZM1172.9,842.7L1183,852.8L1172.9,862.9L1162.8,852.8ZM1179.6,772L1189.7,782.1L1179.6,792.2L1169.5,782.1ZM1181.1,753.9L1191.2,764L1181.1,774.1L1171,764ZM1182.6,729.5L1192.7,739.6L1182.6,749.7L1172.5,739.6ZM1184.6,716L1194.7,726.1L1184.6,736.2L1174.5,726.1ZM1185.7,706.8L1195.8,716.9L1185.7,727L1175.6,716.9ZM1186.7,701.1L1196.8,711.2L1186.7,721.3L1176.6,711.2ZM1189,695.5L1199.1,705.6L1189,715.7L1178.9,705.6ZM1192.8,687L1202.9,697.1L1192.8,707.2L1182.7,697.1ZM1203.7,672.1L1213.8,682.2L1203.7,692.3L1193.6,682.2ZM1256,643.3L1266.1,653.4L1256,663.5L1245.9,653.4ZM1257.2,642.1L1267.3,652.2L1257.2,662.3L1247.1,652.2ZM1324.7,634.9L1334.8,645L1324.7,655.1L1314.6,645ZM1325.9,633.8L1336,643.9L1325.9,654L1315.8,643.9ZM1393.3,633.8L1403.4,643.9L1393.3,654L1383.2,643.9ZM1460.3,634.7L1470.4,644.8L1460.3,654.9L1450.2,644.8ZM1529.3,634.7L1539.4,644.8L1529.3,654.9L1519.2,644.8ZM1597.7,632.1L1607.8,642.2L1597.7,652.3L1587.6,642.2ZM1636.1,630.5L1646.2,640.6L1636.1,650.7L1626,640.6Z" fill="none" stroke="#B177DE" stroke-width="2.6" stroke-linejoin="miter"/>
</g>
<rect x="1491.5" y="709.3" width="212.3" height="240.9" fill="#fff" stroke="#000" stroke-width="2.8"/>
<g font-family="'Liberation Serif',serif" font-size="37.2" fill="#000">
<text transform="translate(1590.3,747.8) scale(0.975,1)">Stage 1</text>
<text transform="translate(1590.3,794.9) scale(0.975,1)">Stage 2</text>
<text transform="translate(1590.3,842.1) scale(0.975,1)">Stage 3</text>
<text transform="translate(1590.3,889.2) scale(0.975,1)">Sim</text>
<text transform="translate(1590.3,936.4) scale(0.975,1)">Exp</text>
</g>
<g fill="none" stroke-linecap="round">
<path d="M1496.5,735.5 H1580.5" stroke="#515151" stroke-width="2.6"/>
<path d="M1496.5,782.6 H1580.5" stroke="#F14040" stroke-width="2.6"/>
<path d="M1496.5,829.8 H1580.5" stroke="#1A6FDF" stroke-width="2.6"/>
<path d="M1496.8,876.9 H1580.2" stroke="#37AD6B" stroke-width="3.8"/>
</g>
<path d="M1534,731L1543,731L1543,740L1534,740Z" fill="#515151"/>
<circle cx="1538.5" cy="782.6" r="4.6" fill="#F14040"/>
<path d="M1532.3,832.8L1544.3,832.8L1538.3,822.4Z" fill="#1A6FDF"/>
<path d="M1538.5,913.9L1548.8,924.1L1538.5,934.4L1528.2,924.1Z" fill="none" stroke="#B177DE" stroke-width="2.6"/>
<rect x="1756.5" y="41.4" width="435.9" height="679.6" fill="#fff" stroke="#000" stroke-width="3"/>
<g font-family="'Liberation Serif',serif" font-size="47.6" fill="#000">
<text transform="translate(1883.5,98.2)">Sim-0.5 °C/min</text>
<text transform="translate(1883.5,165.3)">Exp-0.5 °C/min</text>
<text transform="translate(1883.5,232.4)">Sim-1.0 °C/min</text>
<text transform="translate(1883.5,299.5)">Exp-1.0 °C/min</text>
<text transform="translate(1883.5,366.6)">Sim-2.0 °C/min</text>
<text transform="translate(1883.5,433.7)">Exp-2.0 °C/min</text>
<text transform="translate(1883.5,500.8)">Sim-4.0 °C/min</text>
<text transform="translate(1883.5,567.9)">Exp-4.0 °C/min</text>
<text transform="translate(1883.5,635)">Sim-8.0 °C/min</text>
<text transform="translate(1883.5,702.1)">Exp-8.0 °C/min</text>
</g>
<g fill="none" stroke-linecap="round">
<path d="M1763.2,81.8 H1872" stroke="#515151" stroke-width="8"/>
<path d="M1763.2,216 H1872" stroke="#1A6FDF" stroke-width="8"/>
<path d="M1763.2,350.2 H1872" stroke="#B177DE" stroke-width="8"/>
<path d="M1763.2,484.4 H1872" stroke="#00CBCC" stroke-width="8"/>
<path d="M1763.2,618.6 H1872" stroke="#8E8E00" stroke-width="8"/>
</g>
<g fill="none" stroke-width="3.3" stroke-linejoin="miter">
<circle cx="1817" cy="148.9" r="15.3" stroke="#F14040"/>
<path d="M1799.4,272.9L1834.6,272.9L1817,303.4Z" stroke="#37AD6B"/>
<path d="M1827.2,399.7L1827.2,434.9L1796.7,417.3Z" stroke="#CC9900"/>
<path d="M1817,534L1832.2,542.7L1832.2,560.2L1817,569L1801.8,560.2L1801.8,542.7Z" stroke="#7D4E4E"/>
<path d="M1817,667.7L1834.1,680.1L1827.6,700.3L1806.4,700.3L1799.9,680.1Z" stroke="#FB6501"/>
</g>
</svg>
</body></html>
